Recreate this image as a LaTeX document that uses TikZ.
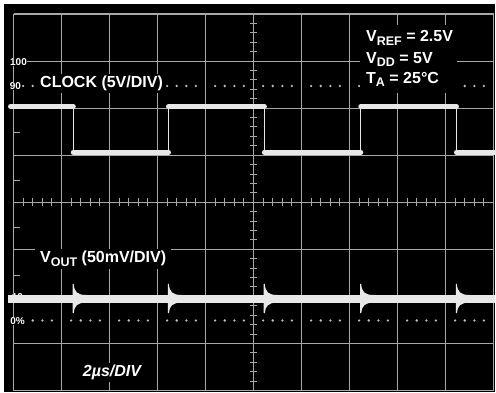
\documentclass[tikz,border=0pt]{standalone}
\usepackage{fontspec}
\setmainfont{Liberation Sans}
\definecolor{gridc}{HTML}{A8A8A8}
\definecolor{dotc}{HTML}{BEBEBE}
\definecolor{tracec}{HTML}{E8E8E8}
\newcommand{\lowsub}[1]{\raisebox{-3.5pt}{\fontsize{12.5}{12.5}\selectfont #1}}
\begin{document}
\begin{tikzpicture}[x=1pt,y=-1pt,
  gridline/.style={draw=gridc, line width=1.1pt},
  tickline/.style={draw=gridc, line width=1pt},
  lbl/.style={fill=black, text=white, font=\fontsize{16}{16}\selectfont\bfseries, inner xsep=3.5pt, inner ysep=2pt, anchor=base west},
  infotxt/.style={text=white, font=\fontsize{16}{16}\selectfont\bfseries, inner sep=0pt, anchor=base west},
  smalllbl/.style={fill=black, text=white, font=\fontsize{10}{10}\selectfont\bfseries, inner sep=0.6pt},
  clktrace/.style={draw=tracec, line width=5pt, line cap=round},
  clkedge/.style={draw=tracec, line width=1.3pt}]
\useasboundingbox (0,0) rectangle (496,393);
\fill[white] (0,0) rectangle (496,393);
\fill[black] (4,4) rectangle (495,392);
% graticule
\foreach \i in {0,...,10} \draw[gridline] ({13.5+48*\i},14) -- ({13.5+48*\i},390.5);
\foreach \j in {0,...,8} \draw[gridline] (13.5,{14+47.06*\j}) -- (493.5,{14+47.06*\j});
\foreach \k in {1,...,49} \draw[tickline] ({13.5+9.6*\k},198.2) -- ({13.5+9.6*\k},206.2);
\foreach \k in {1,...,39} \draw[tickline] (249.7,{14+9.412*\k}) -- (257.3,{14+9.412*\k});
\foreach \y in {132.5,180.5,228,276} \draw[tickline] (13.5,\y) -- (20,\y);
% dotted levels
\foreach \d in {0,...,9} \foreach \k in {1,...,4} {
  \fill[dotc] ({13.5+48*\d+9.6*\k},86) circle (1.3);
  \fill[dotc] ({13.5+48*\d+9.6*\k},320.5) circle (1.3);
}
% scale labels
\node[smalllbl] (l100) at (18.5,62) {100};
\node[smalllbl] (l90) at (15.5,86) {90};
\node[smalllbl] (l10) at (17.5,297.5) {10};
\node[smalllbl] (l0) at (17.5,321) {0\%};
% info block
\fill[black] (360,25) rectangle (457,93);
\node[infotxt] (vref) at (366,41.7) {V\lowsub{REF} = 2.5V};
\node[infotxt] (vdd) at (366,63.3) {V\lowsub{DD} = 5V};
\node[infotxt] (ta) at (366,83.3) {T\lowsub{A} = 25°C};
% channel labels
\node[lbl] (clk) at (36.5,87.3) {CLOCK (5V/DIV)};
\node[lbl, inner xsep=5pt] (vout) at (35,263) {V\lowsub{OUT} (50mV/DIV)};
\node[lbl, font=\fontsize{16}{16}\selectfont\bfseries\itshape] (tdiv) at (79.2,376.3) {2µs/DIV};
% clock trace
\foreach \a/\b/\y in {10.5/73.3/106.5, 73.3/168.5/152.3, 168.5/264.4/106.5, 264.4/360.8/152.3, 360.8/456.5/106.5, 456.5/498/152.3}
  \draw[clktrace] (\a,\y) -- (\b,\y);
\foreach \x in {73.3,168.5,264.4,360.8,456.5}
  \draw[clkedge] (\x,106.5) -- (\x,152.3);
% output trace
\fill[tracec] (8,295) rectangle (495,302.6);
\foreach \x in {73.3,168.5,264.4,360.8,456.5}
  \fill[tracec] (\x-0.7,284) -- (\x+0.4,284) .. controls (\x+1,292) and (\x+4,295) .. (\x+13,295)
    -- (\x+13,302.6) .. controls (\x+4,302.6) and (\x+1,306) .. (\x+0.4,313) -- (\x-0.7,313) -- cycle;
\end{tikzpicture}
\end{document}
